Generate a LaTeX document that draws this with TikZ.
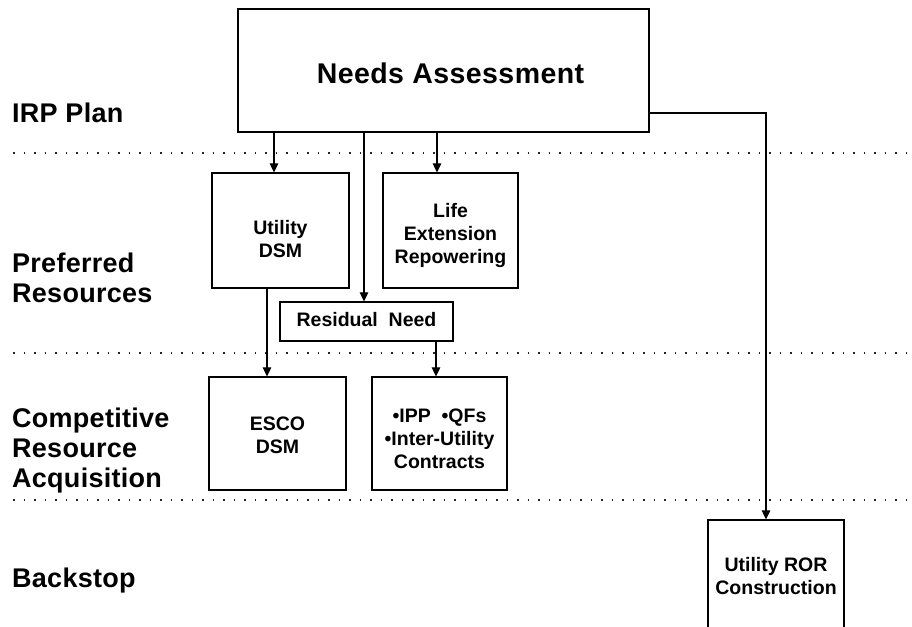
\documentclass[tikz,border=0pt]{standalone}
\usepackage{fontspec}
\setmainfont{Liberation Sans}
\usetikzlibrary{arrows.meta}
\begin{document}
\begin{tikzpicture}[x=1pt,y=-1pt,
  boxnode/.style={draw=black,line width=1.2pt,inner sep=0pt,minimum width=#1},
  boxtext/.style={inner sep=0pt,align=center,font=\fontsize{19.5}{23}\selectfont\bfseries},
  bigtext/.style={inner sep=0pt,font=\fontsize{28.5}{30}\selectfont\bfseries\addfontfeatures{LetterSpace=1.5}},
  rowlabel/.style={inner sep=0pt,anchor=base west,font=\fontsize{27}{30}\selectfont\bfseries\addfontfeatures{LetterSpace=1}},
  arr/.style={line width=1.1pt,-{Triangle[width=8.5pt,length=9pt]}},
  conn/.style={line width=1.1pt},
  sepline/.style={line width=1.7pt,dash pattern=on 1.7pt off 8.8pt,black!85}]
\useasboundingbox (0,0) rectangle (912,626);
\clip (0,0) rectangle (912,626);

% separators
\draw[sepline] (13,153) -- (912,153);
\draw[sepline] (13,353) -- (912,353);
\draw[sepline] (13,500) -- (912,500);

% row labels
\node[rowlabel] (lirp) at (12,122) {IRP Plan};
\node[rowlabel] (lpref1) at (12,272) {Preferred};
\node[rowlabel] (lpref2) at (12,302) {Resources};
\node[rowlabel] (lcomp1) at (12,427) {Competitive};
\node[rowlabel] (lcomp2) at (12,457) {Resource};
\node[rowlabel] (lcomp3) at (12,487) {Acquisition};
\node[rowlabel] (lback) at (12,587) {Backstop};

% boxes
\node[boxnode=411pt,minimum height=123pt,
      label={[bigtext,xshift=7pt,yshift=-2.7pt]center:Needs Assessment}] (needs) at (443.5,70.5) {};
\node[boxnode=137pt,minimum height=115pt,
      label={[boxtext,yshift=-8.9pt]center:{Utility\\DSM}}] (udsm) at (280.5,230.5) {};
\node[boxnode=135pt,minimum height=115pt,
      label={[boxtext,yshift=-4.5pt]center:{Life\\Extension\\Repowering}}] (life) at (450.5,230.5) {};
\node[boxnode=173pt,minimum height=39pt,
      label={[boxtext,yshift=1.5pt]center:{Residual\ \ Need}}] (resid) at (366.5,321.5) {};
\node[boxnode=137pt,minimum height=113pt,
      label={[boxtext,yshift=-2pt]center:{ESCO\\DSM}}] (esco) at (277.5,433.5) {};
\node[boxnode=135pt,minimum height=113pt,
      label={[boxtext,yshift=-5.5pt]center:{•IPP\ \ •QFs\\•Inter-Utility\\Contracts}}] (ipp) at (439.5,433.5) {};
\node[boxnode=136pt,minimum height=125pt,
      label={[boxtext,yshift=6.1pt]center:{Utility ROR\\Construction}}] (ror) at (776,582.5) {};

% connector columns
\coordinate (c1) at (274,0);
\coordinate (c2) at (437,0);
\coordinate (c3) at (364,0);
\coordinate (c4) at (267,0);
\coordinate (c5) at (436,0);
\coordinate (c6) at (766,113);

\draw[arr] (c1 |- needs.south) -- (c1 |- udsm.north);
\draw[arr] (c2 |- needs.south) -- (c2 |- life.north);
\draw[arr] (c3 |- needs.south) -- (c3 |- resid.north);
\draw[arr] (c4 |- udsm.south) -- (c4 |- esco.north);
\draw[arr] (c5 |- resid.south) -- (c5 |- ipp.north);
\draw[arr] (c6 -| needs.east) -- (c6) -- (c6 |- ror.north);
\end{tikzpicture}
\end{document}
